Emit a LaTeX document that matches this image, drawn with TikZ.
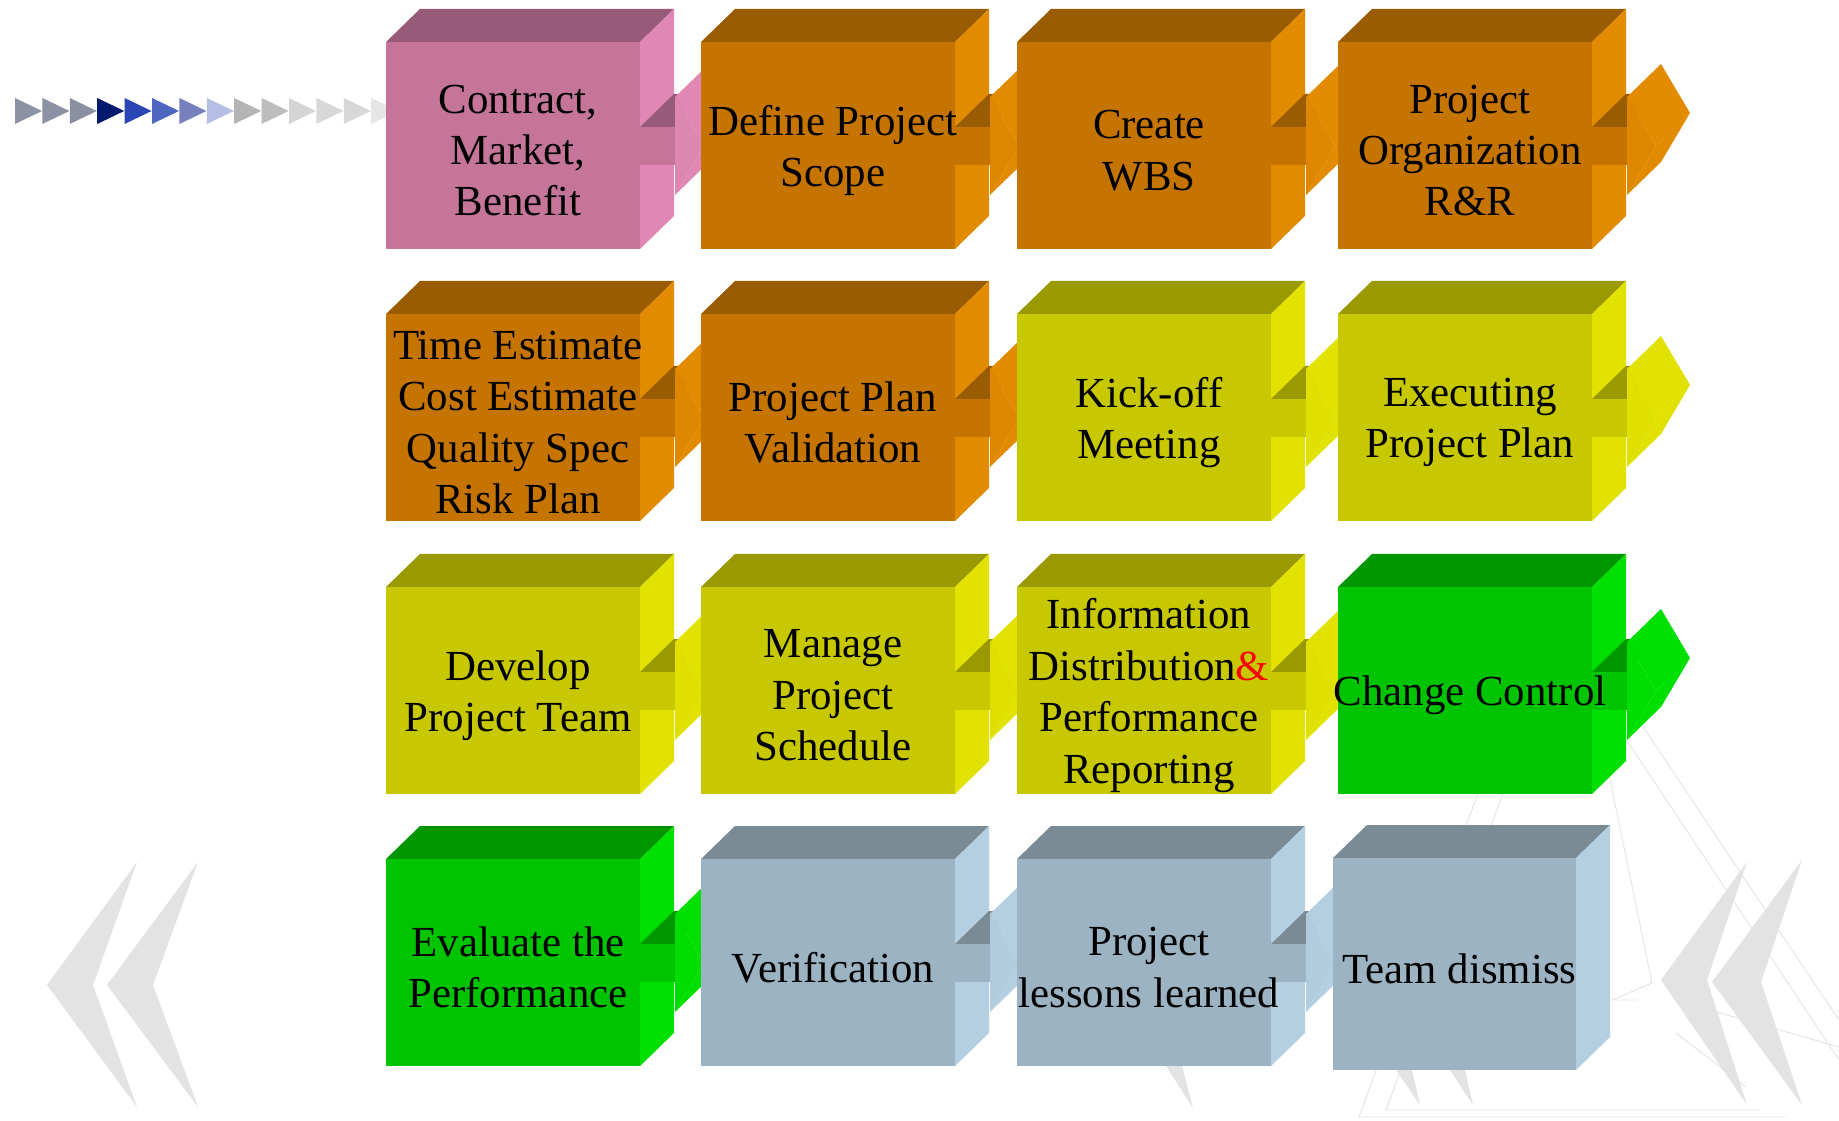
\documentclass[tikz,border=0pt]{standalone}
\usepackage{fontspec}
\setmainfont{Liberation Serif}
\usepackage{xcolor}
\usepackage{tikz}
\usetikzlibrary{calc}

\definecolor{pinkF}{HTML}{C47598}
\definecolor{pinkT}{HTML}{975B79}
\definecolor{pinkS}{HTML}{E088B3}
\definecolor{oranyeF}{HTML}{C67400}
\definecolor{oranyeT}{HTML}{995C00}
\definecolor{oranyeS}{HTML}{E28A00}
\definecolor{kuningF}{HTML}{C8C800}
\definecolor{kuningT}{HTML}{9A9A00}
\definecolor{kuningS}{HTML}{E2E200}
\definecolor{hijauF}{HTML}{00C400}
\definecolor{hijauT}{HTML}{009600}
\definecolor{hijauS}{HTML}{00E000}
\definecolor{abuF}{HTML}{9BB3C3}
\definecolor{abuT}{HTML}{7A8B96}
\definecolor{abuS}{HTML}{B4CFE1}

\pgfdeclarelayer{depan}
\pgfsetlayers{main,depan}

\tikzset{
  teks/.style={align=center, inner sep=0pt, font=\fontsize{24.4}{29.3}\selectfont},
  chevron/.style={fill=black!11},
  garis/.style={draw=black!11, line width=0.5pt},
}

% kotak 3D: nama, x, y, lebar, tinggi, warna, teks
\newcommand{\kotak}[7]{%
  \fill[#6T] (#2,#3) -- ++(34,-33) -- ++(#4,0) -- ++(-34,33) -- cycle;
  \fill[#6S] (#2+#4,#3) -- ++(34,-33) -- ++(0,#5) -- ++(-34,33) -- cycle;
  \fill[#6F] (#2,#3) rectangle ++(#4,#5);
  \begin{pgfonlayer}{depan}
    \node[teks] (#1) at (#2+#4/2+5,#3+#5/2+5) {#7};
  \end{pgfonlayer}
}
% panah 3D: x pangkal, y tengah, warna
\newcommand{\panah}[3]{%
  \fill[#3T] (#1,#2-19) -- ++(34,-33) -- ++(35,0) -- ++(-34,33) -- cycle;
  \fill[#3S] (#1+35,#2-49) -- ++(34,-33) -- (#1+98,#2-33) -- (#1+64,#2) -- cycle;
  \fill[#3S] (#1+64,#2) -- (#1+98,#2-33) -- (#1+69,#2+16) -- (#1+35,#2+49) -- cycle;
  \fill[#3F] (#1,#2-19) rectangle (#1+35,#2+19);
  \fill[#3S!88!#3F] (#1+35,#2-49) -- (#1+64,#2) -- (#1+35,#2+49) -- cycle;
}

\begin{document}
\begin{tikzpicture}[x=0.02cm,y=-0.02cm]
        %LATAR
        \fill[white] (0,0) rectangle (1839,1121);
        \useasboundingbox (0,0) rectangle (1839,1121);
        %CHEVRON
        \fill[chevron] (137,862) -- (47,985) -- (137,1107) -- (93,985) -- cycle;
        \fill[chevron] (198,862) -- (107,985) -- (198,1107) -- (153,985) -- cycle;
        \fill[chevron] (1747,862) -- (1661,980) -- (1747,1105) -- (1707,980) -- cycle;
        \fill[chevron] (1802,860) -- (1712,982) -- (1802,1105) -- (1761,982) -- cycle;
        \fill[chevron] (1166,1066) -- (1182,1066) -- (1193,1108) -- cycle;
        \fill[chevron] (1396,1070) -- (1412,1070) -- (1420,1105) -- cycle;
        \fill[chevron] (1450,1070) -- (1465,1070) -- (1473,1105) -- cycle;
        %GARIS LATAR
        \draw[garis] (1505,720) -- (1359,1117) -- (1786,1117);
        \draw[garis] (1530,720) -- (1386,1110) -- (1760,1110);
        \draw[garis] (1600,700) -- (1839,1060);
        \draw[garis] (1625,700) -- (1839,1020);
        \draw[garis] (1606,760) -- (1652,983) -- (1612,1000) -- (1636,1000);
        \draw[garis] (1676,1033) -- (1746,1087);
        \draw[garis] (1699,1007) -- (1839,1047);
        %SEGITIGA
        \foreach \c [count=\i from 0] in {8C91A3,8C91A3,8A8FA2,001A6E,2A46B4,4F66C0,7580BC,B5BEE3,B4B4B4,BDBDBD,D5D5D5,D8D8D8,D8D8D8,E6E6E6}
        {
          \definecolor{tmp}{HTML}{\c}
          \fill[tmp] (15+27.4*\i,98) -- (42+27.4*\i,111) -- (15+27.4*\i,124) -- cycle;
        }
        %BARIS 1
        \kotak{b11}{386}{42}{254}{207}{pink}{Contract,\\Market,\\Benefit}
        \panah{640}{146}{pink}
        \kotak{b12}{701}{42}{254}{207}{oranye}{Define Project\\Scope}
        \panah{955}{146}{oranye}
        \kotak{b13}{1017}{42}{254}{207}{oranye}{Create\\WBS}
        \panah{1271}{146}{oranye}
        \kotak{b14}{1338}{42}{254}{207}{oranye}{Project\\Organization\\R\&R}
        \panah{1592}{146}{oranye}
        %BARIS 2
        \kotak{b21}{386}{314}{254}{207}{oranye}{Time Estimate\\Cost Estimate\\Quality Spec\\Risk Plan}
        \panah{640}{418}{oranye}
        \kotak{b22}{701}{314}{254}{207}{oranye}{Project Plan\\Validation}
        \panah{955}{418}{oranye}
        \kotak{b23}{1017}{314}{254}{207}{kuning}{Kick-off\\Meeting}
        \panah{1271}{418}{kuning}
        \kotak{b24}{1338}{314}{254}{207}{kuning}{Executing\\Project Plan}
        \panah{1592}{418}{kuning}
        %BARIS 3
        \kotak{b31}{386}{587}{254}{207}{kuning}{Develop\\Project Team}
        \panah{640}{691}{kuning}
        \kotak{b32}{701}{587}{254}{207}{kuning}{Manage\\Project\\Schedule}
        \panah{955}{691}{kuning}
        \kotak{b33}{1017}{587}{254}{207}{kuning}{Information\\Distribution{\color{red}\&}\\Performance\\Reporting}
        \panah{1271}{691}{kuning}
        \kotak{b34}{1338}{587}{254}{207}{hijau}{Change Control}
        \panah{1592}{691}{hijau}
        %BARIS 4
        \kotak{b41}{386}{859}{254}{207}{hijau}{Evaluate the\\Performance}
        \panah{640}{963}{hijau}
        \kotak{b42}{701}{859}{254}{207}{abu}{Verification}
        \panah{955}{963}{abu}
        \kotak{b43}{1017}{859}{254}{207}{abu}{Project\\lessons learned}
        \panah{1271}{963}{abu}
        \kotak{b44}{1333}{858}{243}{212}{abu}{Team dismiss}
    \end{tikzpicture}
\end{document}
